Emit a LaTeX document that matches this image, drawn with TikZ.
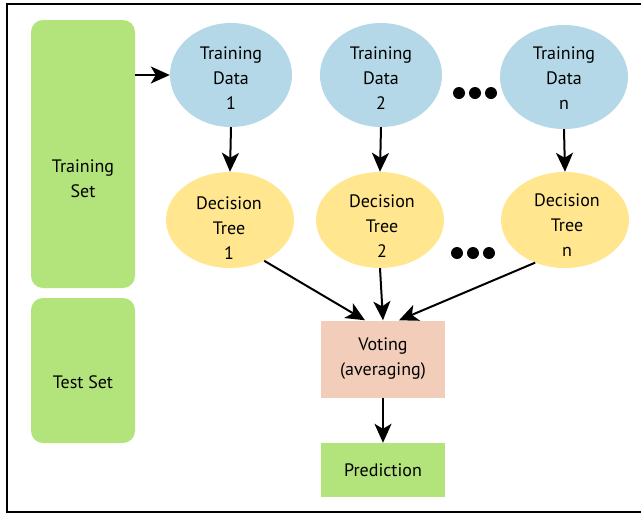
\documentclass[tikz,border=0pt]{standalone}
\usepackage{fontspec}
\setmainfont{PT Sans}
\usetikzlibrary{shapes.geometric,arrows.meta}

\definecolor{setgreen}{RGB}{179,227,123}
\definecolor{databblue}{RGB}{180,216,231}
\definecolor{treeyellow}{RGB}{255,230,143}
\definecolor{votepeach}{RGB}{242,205,186}

\begin{document}
\begin{tikzpicture}[x=1pt,y=-1pt,
        setbox/.style=
            {
                rectangle,
                fill = setgreen,
                rounded corners = 12pt,
                minimum width = 104pt,
                inner sep = 0pt
            },
        datanode/.style=
            {
                ellipse,
                fill = databblue,
                minimum width = 122pt,
                minimum height = 104pt,
                inner sep = 0pt
            },
        treenode/.style=
            {
                ellipse,
                fill = treeyellow,
                minimum width = 128pt,
                minimum height = 96pt,
                inner sep = 0pt
            },
        stepbox/.style=
            {
                rectangle,
                minimum width = 124pt,
                inner sep = 0pt,
                align = center,
                font = \fontsize{18}{25}\selectfont
            },
        txt/.style=
            {
                align = center,
                inner sep = 0pt,
                font = \fontsize{18}{25}\selectfont
            },
        dot/.style=
            {
                circle,
                fill = black,
                minimum width = 10pt,
                minimum height = 12pt,
                inner sep = 0pt
            },
        link/.style=
            {
                -{Stealth[length=19pt,width=17pt,inset=5pt]},
                line width = 2pt
            }
    ]

    \useasboundingbox (0,0) rectangle (641,515);
    \draw[line width=1.8pt] (7,4) rectangle (650,512);

    % sets on the left
    \node[setbox, minimum height = 268pt] (trainset) at (83,154) {};
    \node[txt] (trainlbl) at (83,179) {Training\\Set};
    \node[setbox, minimum height = 145pt] (testset) at (83,370.5) {};
    \node[txt] (testlbl) at (83,382) {Test Set};

    % training data
    \node[datanode] (data1) at (231,75) {};
    \node[datanode] (data2) at (381,75) {};
    \node[datanode, minimum width = 128pt] (datan) at (564,77) {};
    \node[txt] (data1lbl) at (231,78) {Training\\Data\\1};
    \node[txt] (data2lbl) at (381,78) {Training\\Data\\2};
    \node[txt] (datanlbl) at (564,78) {Training\\Data\\n};

    % decision trees
    \node[treenode] (tree1) at (230,220) {};
    \node[treenode] (tree2) at (380,220) {};
    \node[treenode] (treen) at (565,220) {};
    \node[txt] (tree1lbl) at (229,228) {Decision\\Tree\\1};
    \node[txt] (tree2lbl) at (382,226) {Decision\\Tree\\2};
    \node[txt] (treenlbl) at (567,225) {Decision\\Tree\\n};

    % dots
    \foreach \i/\x in {1/459,2/475,3/491} {
        \node[dot] (tdot\i) at (\x,93) {};
        \node[dot] (bdot\i) at (\x-2,253) {};
    }

    % voting and prediction
    \node[stepbox, fill = votepeach, minimum height = 77pt] (vote) at (383,359) {Voting\\(averaging)};
    \node[stepbox, fill = setgreen, minimum height = 54pt] (pred) at (383,470) {Prediction};

    \draw[link] (trainset.east |- data1) -- (data1.west);
    \draw[link] (data1.south) -- (tree1.north);
    \draw[link] (data2.south) -- (tree2.north);
    \draw[link] (datan.south) -- (treen.north);

    \draw[link] (tree1.-50) -- ([xshift=-18pt]vote.north);
    \draw[link] (tree2.south) -- (vote.north);
    \draw[link] (treen.-125) -- ([xshift=16pt]vote.north);
    \draw[link] (vote.south) -- (pred.north);

\end{tikzpicture}
\end{document}
